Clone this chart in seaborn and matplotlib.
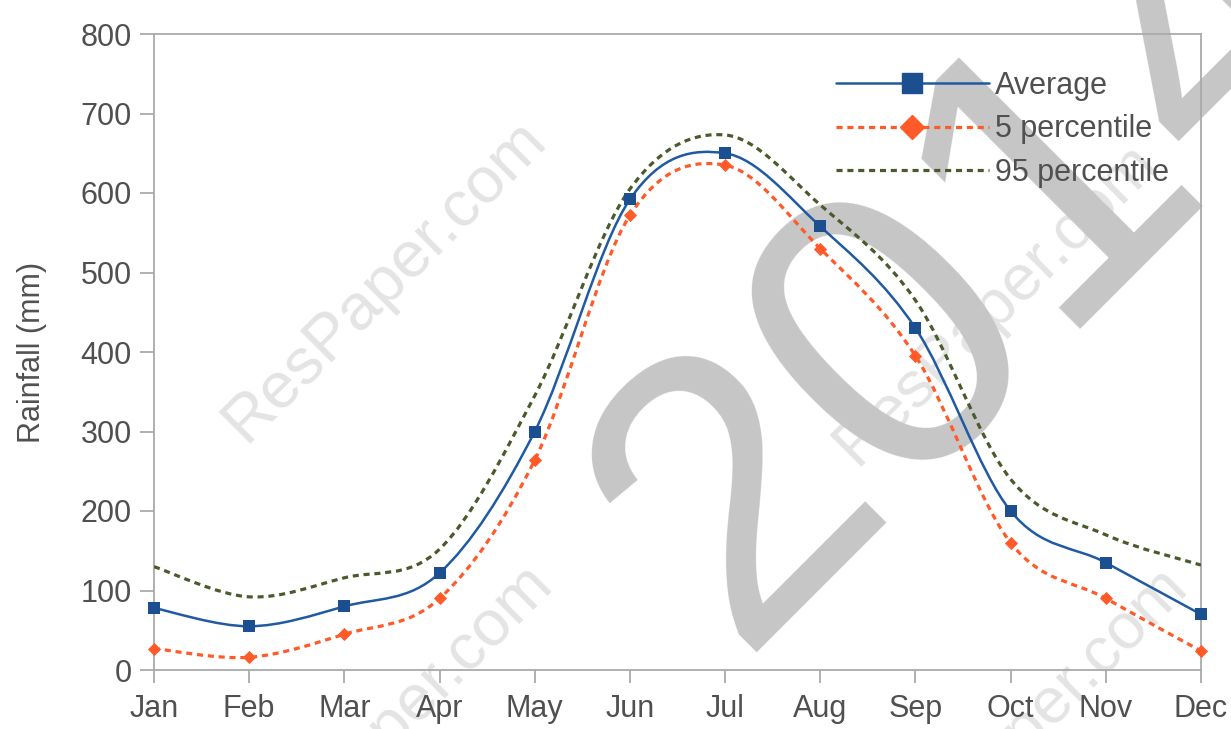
import numpy as np
import pandas as pd
import matplotlib
matplotlib.use("Agg")
import matplotlib.pyplot as plt
import seaborn as sns
from matplotlib.path import Path
from matplotlib.patches import PathPatch
from matplotlib.lines import Line2D

# ---- data ----
months = ["Jan", "Feb", "Mar", "Apr", "May", "Jun", "Jul", "Aug", "Sep", "Oct", "Nov", "Dec"]
average = [78, 55, 80, 122, 300, 592, 650, 558, 430, 200, 135, 70]
p5 = [27, 16, 45, 90, 264, 572, 635, 530, 395, 160, 90, 24]
p95 = [130, 92, 116, 152, 345, 605, 673, 585, 465, 240, 170, 132]
series_names = ["Average", "5 percentile", "95 percentile"]
y_ticks = [0, 100, 200, 300, 400, 500, 600, 700, 800]

col_avg = "#1f5aa3"
col_avg_mk = "#1c4f8f"
col_p5 = "#ff5a28"
col_p95 = "#4b5a2c"
txt_col = "#505050"
spine_col = "#aaaaaa"

sns.set_theme(style="white")
plt.rcParams["font.family"] = ["Liberation Sans", "DejaVu Sans"]

fig = plt.figure(figsize=(12.31, 7.29), dpi=100)
fig.patch.set_facecolor("white")
ax = fig.add_axes([154 / 1231, 1 - 670 / 729, 1047 / 1231, 636 / 729])
ax.set_facecolor("none")


def smooth_path(xs, ys, k=6.0):
    pts = np.column_stack([xs, ys]).astype(float)
    n = len(pts)
    verts = [pts[0]]
    codes = [Path.MOVETO]
    for i in range(n - 1):
        p0 = pts[max(i - 1, 0)]
        p1 = pts[i]
        p2 = pts[i + 1]
        p3 = pts[min(i + 2, n - 1)]
        c1 = p1 + (p2 - p0) / k
        c2 = p2 - (p3 - p1) / k
        verts += [c1, c2, p2]
        codes += [Path.CURVE4] * 3
    return Path(verts, codes)


x = np.arange(len(months))
dots = (0, (1.9, 1.5))

# smooth lines
ax.add_patch(PathPatch(smooth_path(x, p95), facecolor="none", edgecolor=col_p95,
                       lw=2.3, linestyle=dots, zorder=3))
ax.add_patch(PathPatch(smooth_path(x, p5), facecolor="none", edgecolor=col_p5,
                       lw=2.3, linestyle=dots, zorder=3))
ax.add_patch(PathPatch(smooth_path(x, average), facecolor="none", edgecolor=col_avg,
                       lw=1.8, linestyle="-", zorder=4))

# markers via seaborn
df = pd.DataFrame({
    "x": np.concatenate([x, x]),
    "value": average + p5,
    "series": ["Average"] * 12 + ["5 percentile"] * 12,
})
sns.scatterplot(data=df[df.series == "Average"], x="x", y="value", marker="s", s=80,
                color=col_avg_mk, edgecolor=col_avg_mk, linewidth=0, legend=False,
                ax=ax, zorder=6, clip_on=False)
sns.scatterplot(data=df[df.series == "5 percentile"], x="x", y="value", marker="D", s=45,
                color=col_p5, edgecolor=col_p5, linewidth=0, legend=False,
                ax=ax, zorder=5, clip_on=False)

ax.set_xlim(0, 11)
ax.set_ylim(0, 800)
ax.set_xticks(x)
ax.set_xticklabels(months)
ax.set_yticks(y_ticks)
ax.set_yticklabels([str(v) for v in y_ticks])
ax.set_xlabel("")
ax.set_ylabel("Rainfall (mm)", fontsize=22, color=txt_col, labelpad=24)
ax.tick_params(axis="both", labelsize=22, labelcolor=txt_col, color=spine_col,
               width=1.3, direction="out")
ax.tick_params(axis="y", length=10, pad=6, left=True)
ax.tick_params(axis="x", length=9, pad=8, bottom=True)
for s in ax.spines.values():
    s.set_visible(True)
    s.set_color(spine_col)
    s.set_linewidth(1.3)
ax.grid(False)

handles = [
    Line2D([], [], color=col_avg, lw=1.8, marker="s", markersize=15,
           markerfacecolor=col_avg_mk, markeredgecolor=col_avg_mk),
    Line2D([], [], color=col_p5, lw=2.3, linestyle=dots, marker="D",
           markersize=12, markerfacecolor=col_p5, markeredgecolor=col_p5),
    Line2D([], [], color=col_p95, lw=2.3, linestyle=dots),
]
leg = ax.legend(handles, series_names, loc="upper left", bbox_to_anchor=(0.631, 0.976),
                frameon=False, fontsize=22, handlelength=5.0, handletextpad=0.2,
                labelspacing=0.45, borderpad=0.2)
for t in leg.get_texts():
    t.set_color(txt_col)

# watermarks
fig.text(980 / 1231, 1 - 262 / 729, "2014", fontsize=290, color="#c6c6c6",
         rotation=45, rotation_mode="anchor", ha="center", va="center", zorder=-1)
for cx, cy in [(385, 281), (996, 304), (391, 724), (1026, 727)]:
    fig.text(cx / 1231, 1 - cy / 729, "ResPaper.com", fontsize=47, color="#e4e4e4",
             rotation=45, rotation_mode="anchor", ha="center", va="center", zorder=-2)

fig.savefig("out.png", dpi=100)
